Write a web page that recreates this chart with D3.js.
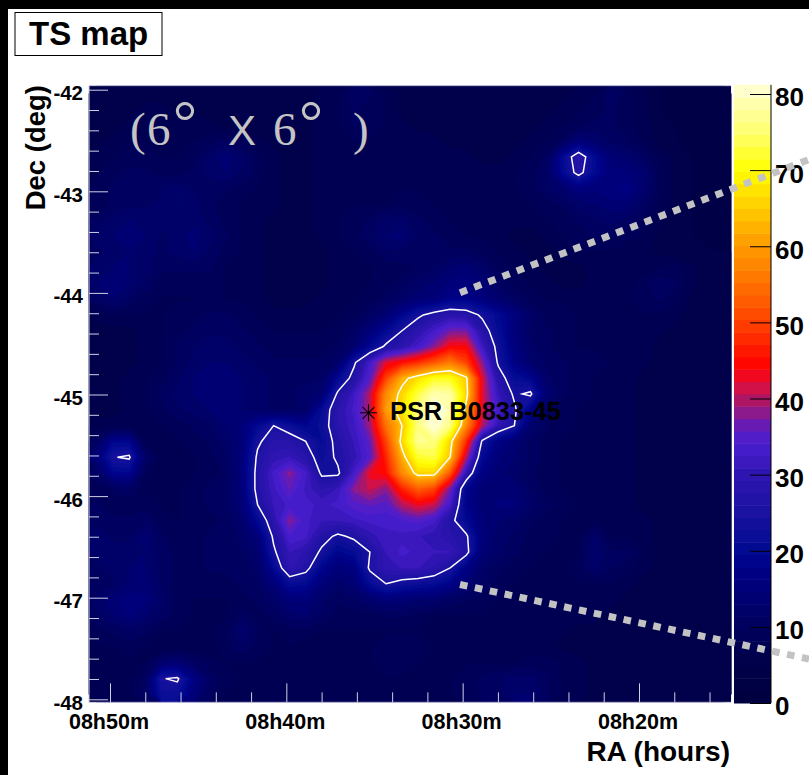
<!DOCTYPE html>
<html>
<head>
<meta charset="utf-8">
<script src="https://cdn.jsdelivr.net/npm/d3@7"></script>
<style>
  html, body { margin: 0; padding: 0; background: #fff; }
  text { font-family: "Liberation Sans", Arial, sans-serif; font-weight: bold; fill: #000; }
</style>
</head>
<body>
<script>
// TS values, one row per ~0.16 deg in Dec, top to bottom
const tsRows = [
  [5,5,6,6,6,6,6,6,5,5,5,5,5,6,7,8,11,10,8,6,6,6,6,5,5,5,5,5,6,6,7,8,11,9,7,5,4,4,4,4],
  [5,5,6,7,7,6,6,6,6,5,5,5,5,6,7,8,10,9,8,6,6,6,6,6,5,5,5,5,6,7,8,9,10,9,7,5,4,4,4,4],
  [5,6,7,7,7,7,7,7,6,6,5,5,5,6,7,8,10,9,8,7,6,6,6,6,6,5,5,6,7,8,9,10,10,9,7,6,5,4,4,4],
  [6,7,8,8,8,8,8,9,10,9,7,6,6,6,7,8,8,8,7,7,7,7,6,6,6,6,6,7,8,10,15,13,11,10,8,6,5,4,4,4],
  [7,8,9,9,8,8,9,12,14,12,9,7,6,6,7,7,7,7,7,7,8,8,7,7,6,6,7,8,10,20,29,20,14,13,11,8,6,5,4,4],
  [8,9,10,10,9,9,10,12,13,11,9,7,6,6,7,7,7,7,8,8,8,8,8,7,7,7,8,9,11,20,27,20,15,15,13,9,6,5,4,4],
  [9,10,11,11,11,13,11,10,10,9,8,7,6,6,7,7,7,8,8,8,8,8,8,8,8,7,8,9,11,13,16,15,16,17,13,9,6,5,4,4],
  [9,10,11,11,12,13,12,10,9,8,7,7,6,6,7,7,8,8,8,9,9,8,8,8,8,8,8,8,9,10,12,13,14,14,11,8,6,5,4,4],
  [10,12,13,12,12,12,12,11,9,8,7,6,6,6,7,8,9,10,12,12,10,9,8,8,8,7,7,7,8,9,10,11,12,11,9,7,6,5,4,4],
  [12,13,14,13,11,12,14,12,10,8,7,6,6,6,7,8,9,11,13,14,11,10,9,8,8,7,6,6,7,8,9,10,10,9,8,6,5,5,4,4],
  [11,12,13,12,11,12,13,11,9,8,7,6,6,6,6,7,8,9,11,11,10,10,10,10,9,8,7,6,6,7,8,8,8,7,7,6,5,5,5,5],
  [12,13,13,12,10,10,10,10,8,8,7,6,6,6,6,7,7,8,9,9,10,11,13,14,12,9,8,7,6,6,6,7,7,7,7,8,9,7,5,5],
  [13,15,13,11,9,9,9,9,8,8,7,6,6,6,6,7,7,8,9,10,12,13,15,16,14,11,9,8,7,6,6,7,7,7,9,11,10,7,5,5],
  [11,13,11,9,8,8,8,9,8,8,7,6,6,6,7,7,8,9,10,12,14,15,18,18,16,13,11,9,8,8,7,7,8,8,9,10,9,6,5,5],
  [7,8,8,8,8,9,9,10,10,9,8,7,7,7,8,8,9,11,14,19,24,27,29,28,24,20,16,12,9,9,8,8,8,8,8,8,7,6,5,5],
  [6,6,6,7,8,9,10,11,11,10,9,8,8,8,8,9,11,15,20,25,29,33,37,37,28,21,15,11,10,9,8,8,8,8,7,7,6,5,5,5],
  [6,6,6,7,8,10,11,12,12,11,10,9,9,9,9,10,13,20,26,29,33,38,44,44,32,23,16,12,10,9,8,8,8,8,7,6,6,5,5,5],
  [6,6,6,7,8,10,12,13,13,12,11,10,10,10,10,12,24,33,42,45,48,52,56,50,38,24,17,13,11,10,9,9,8,8,7,6,5,5,5,5],
  [6,6,7,8,9,11,13,14,14,13,12,11,11,11,11,20,27,35,50,62,67,71,71,65,42,28,21,19,12,10,9,8,8,7,6,6,5,5,5,5],
  [6,6,7,8,10,12,13,14,14,13,12,11,11,12,14,26,32,40,58,66,73,79,78,66,42,31,24,26,14,10,9,8,8,7,6,6,5,5,5,5],
  [6,6,7,8,9,11,12,13,14,13,12,11,11,12,21,29,33,40,60,67,76,82,79,62,42,33,26,18,10,9,8,8,7,7,6,5,5,5,5,5],
  [7,7,7,7,8,9,10,11,13,15,20,25,22,19,22,29,32,39,55,64,76,82,76,58,40,30,25,13,10,9,8,8,7,7,6,5,5,5,5,5],
  [11,19,19,8,8,8,9,10,12,14,24,28,28,25,21,27,31,36,50,66,77,76,66,48,24,17,14,11,9,8,8,8,7,7,6,5,5,5,5,5],
  [15,24.7,25.8,12,7,8,8,9,11,15,26,30,31,28,22,26,30,35,47,62,72,73,64,40,20,15,13,11,9,8,8,8,8,7,6,5,5,5,5,5],
  [11,19,19,9,7,8,8,9,10,15,27,33,38,33,24,24,33,43,45,58,66,66,52,30,17,14,12,10,9,8,8,8,8,7,6,5,5,5,5,5],
  [9,10,11,8,7,8,9,10,11,15,27,32,36,32,29,31,38,41,38,47,53,50,37,19,14,14,14,11,9,8,8,8,8,7,6,5,5,5,5,5],
  [10,9,9,9,8,8,9,10,11,14,25,31,33,33,32,33,35,36,35,40,43,41,33,18,14,15,15,12,10,9,8,8,8,7,6,6,5,5,5,5],
  [11,10,10,11,9,8,9,9,10,13,20,29,38,33,31,31,32,33,33,34,35,33,27,20,15,13,12,10,9,8,8,8,8,8,7,6,5,5,5,5],
  [12,11,11,14,10,9,9,10,10,12,15,26,34,33,27,24,26,30,32,32,31,30,28,26,15,12,11,9,9,8,8,12,8,8,7,6,5,5,5,5],
  [12,12,12,13,11,9,9,10,10,11,13,24,31,29,24,19,21,25,31,33,32,31,31,27,14,12,10,9,8,8,8,13,10,10,8,6,5,5,5,5],
  [11,12,13,13,11,9,9,10,10,10,12,20,30,27,19,15,16,26,30,31,31,29,25,17,12,10,9,8,8,8,9,12,10,9,7,6,5,5,5,5],
  [10,11,13,14,11,9,9,9,9,10,11,15,21,20,15,12,14,21,25,23,22,21,18,14,11,9,8,8,8,8,8,8,8,7,6,5,5,5,5,5],
  [12,14,16,15,12,9,8,8,8,9,10,12,15,15,12,10,11,13,15,14,13,13,11,10,9,8,7,7,7,7,7,7,7,6,6,5,5,5,5,5],
  [11,13,15,13,11,9,8,8,8,10,9,10,12,13,11,9,9,9,10,10,9,8,8,8,8,7,7,7,7,7,7,7,6,6,5,5,5,5,5,5],
  [9,10,11,10,8,8,8,8,9,13,10,8,9,9,8,8,8,8,8,8,8,8,8,8,7,7,7,7,7,7,6,6,6,6,5,5,5,5,5,5],
  [8,8,9,8,7,7,7,7,9,11,9,8,8,7,7,7,8,8,9,9,9,8,8,7,7,7,7,7,7,6,6,6,6,5,5,5,5,5,5,5],
  [8,8,8,8,13,14,11,9,8,8,8,7,7,7,7,7,7,8,9,9,8,8,8,8,8,8,8,9,9,8,7,6,6,6,5,5,5,5,5,5],
  [8,8,8,10,24.7,25.8,17,11,9,8,8,7,7,7,7,7,8,8,8,8,8,8,8,9,10,11,12,12,10,8,7,6,6,6,5,5,5,5,5,5],
  [7,8,8,11,22,22,15,10,8,8,7,7,7,7,7,7,8,8,8,8,8,8,8,9,10,11,13,13,10,8,7,6,6,5,5,5,5,5,5,5]
];

const raRange = [51.19, 14.78];
const decRange = [-41.96, -48.03];
const tsRange = [0, 81.2];

const raMajor = [50, 40, 30, 20];
const raMinor = [48, 46, 44, 42, 38, 36, 34, 32, 28, 26, 24, 22, 18, 16];
const decMajor = [-42, -43, -44, -45, -46, -47, -48];
const decMinor = [-42.2, -42.4, -42.6, -42.8, -43.2, -43.4, -43.6, -43.8, -44.2, -44.4, -44.6, -44.8,
  -45.2, -45.4, -45.6, -45.8, -46.2, -46.4, -46.6, -46.8, -47.2, -47.4, -47.6, -47.8];
const tsTicks = [0, 10, 20, 30, 40, 50, 60, 70, 80];
const contourLevels = [25, 64];
const pulsar = { name: "PSR B0833-45", ra: 35.34, dec: -45.18 };

const paletteValues = [0, 5, 10, 18, 20, 25, 30, 34, 36, 38, 40, 42, 44, 50, 55, 60, 65, 70, 75, 80, 81.2];
const paletteColors = ["#000040", "#000048", "#00005e", "#000088", "#000a90", "#1a12a0", "#2e14b0", "#4a1ed0",
  "#5a1cc0", "#8a1a90", "#b0155f", "#e01040", "#ff0000", "#ff4000", "#ff7000", "#ff9900", "#ffcc00", "#ffff00",
  "#ffff70", "#ffffc0", "#ffffe8"];

const nLevels = 50;

let svg = d3.select("body").append("svg").attr("width", 809).attr("height", 775).style("display", "block");

const x = d3.scaleLinear().domain([50, 20]).range([110, 639]);
const y = d3.scaleLinear().domain([-42, -48]).range([89.7, 699.3]);
const z = d3.scaleLinear().domain([0, 80]).range([703, 94]);
const color = d3.scaleLinear().domain(paletteValues).range(paletteColors);

const mapLeft = x(raRange[0]), mapRight = x(raRange[1]);
const mapTop = y(decRange[0]), mapBottom = y(decRange[1]);

// black strips on the slide edge
svg.append("rect").attr("width", 809).attr("height", 9).attr("fill", "#000");
svg.append("rect").attr("width", 8).attr("height", 775).attr("fill", "#000");

// title box
svg.append("rect").attr("x", 15).attr("y", 12.5).attr("width", 147).attr("height", 43)
  .attr("fill", "#fff").attr("stroke", "#000").attr("stroke-width", 1);
svg.append("text").text("TS map").attr("x", 29).attr("y", 45).style("font-size", "33px");

// map, filled bands from d3.contours
const nCols = tsRows[0].length, nRows = tsRows.length;
const colX = d3.scaleLinear().domain([0, nCols]).range([mapLeft, mapRight]);
const rowY = d3.scaleLinear().domain([0, nRows]).range([mapTop, mapBottom]);
const gridPath = d3.geoPath(d3.geoTransform({
  point(px, py) { this.stream.point(colX(px), rowY(py)); }
}));

const flat = tsRows.flat();
const step = (tsRange[1] - tsRange[0]) / nLevels;
const levels = d3.range(nLevels).map(i => tsRange[0] + i * step);

const contours = d3.contours().size([nCols, nRows]);

// the contour rings cut the grid corners, so lay the low colour under them
svg.append("rect")
  .attr("x", mapLeft).attr("y", mapTop)
  .attr("width", mapRight - mapLeft).attr("height", mapBottom - mapTop)
  .attr("fill", color(d3.min(flat)));

svg.append("g").selectAll("path")
  .data(contours.thresholds(levels)(flat))
  .join("path")
  .attr("d", gridPath)
  .attr("fill", d => color(d.value + step / 2))
  .attr("stroke", d => color(d.value + step / 2))
  .attr("stroke-width", 0.4);

// white TS contours
svg.append("g").selectAll("path")
  .data(contours.thresholds(contourLevels)(flat))
  .join("path")
  .attr("d", gridPath)
  .attr("fill", "none")
  .attr("stroke", "#fff")
  .attr("stroke-width", 1.5);

// colour bar
svg.append("g").selectAll("rect")
  .data(levels)
  .join("rect")
  .attr("x", 734)
  .attr("width", 37)
  .attr("y", d => z(d + step))
  .attr("height", d => z(d) - z(d + step) + 0.5)
  .attr("fill", d => color(d + step / 2));

let zAxis = svg.append("g").attr("transform", "translate(771,0)")
  .call(d3.axisRight(z).tickValues(tsTicks).tickSize(-21).tickSizeOuter(0).tickPadding(4).tickFormat(d => d));
zAxis.select(".domain").attr("d", `M0,${z(tsRange[1])}V${z(0)}`);
zAxis.selectAll("text").style("font-size", "26px").attr("dy", "0.46em");

// map frame and ticks
const frameColor = "#cfcfe6";

function addXAxis(values, size, labelled) {
  let axis = d3.axisBottom(x).tickValues(values).tickSize(-size).tickSizeOuter(0).tickPadding(11)
    .tickFormat(d => labelled ? `08h${d}m` : "");
  let g = svg.append("g").attr("transform", `translate(0,${mapBottom})`).call(axis);
  g.select(".domain").remove();
  g.selectAll("line").attr("stroke", frameColor);
  g.selectAll("text").style("font-size", "21.5px").attr("dx", "-1.5");
}

function addYAxis(values, size, labelled) {
  let axis = d3.axisLeft(y).tickValues(values).tickSize(-size).tickSizeOuter(0).tickPadding(6)
    .tickFormat(d => labelled ? d : "");
  let g = svg.append("g").attr("transform", `translate(${mapLeft},0)`).call(axis);
  g.select(".domain").remove();
  g.selectAll("line").attr("stroke", frameColor);
  g.selectAll("text").style("font-size", "20.5px").attr("dy", "0.49em");
}

addXAxis(raMajor, 19, true);
addXAxis(raMinor, 10, false);
addYAxis(decMajor, 19, true);
addYAxis(decMinor, 10, false);

svg.append("path")
  .attr("d", `M${mapRight},${mapTop}H${mapLeft}V${mapBottom}H${mapRight}`)
  .attr("fill", "none")
  .attr("stroke", frameColor);

svg.append("text").text("RA (hours)").attr("x", 730).attr("y", 761)
  .attr("text-anchor", "end").style("font-size", "28px");
svg.append("text").text("Dec (deg)")
  .attr("transform", "translate(45,85) rotate(-90)")
  .attr("text-anchor", "end").style("font-size", "27.5px");

// field of view note
const serif = "'Liberation Serif', serif";
let fov = svg.append("g");
[["(", 130], ["6", 147], ["6", 273], [")", 353]].forEach(d => {
  fov.append("text").text(d[0]).attr("x", d[1]).attr("y", 145)
    .style("font-family", serif).style("font-weight", "normal")
    .style("font-size", "47px").style("fill", "#c4c4c4");
});
[173, 299].forEach(d => {
  fov.append("text").text("\u00b0").attr("x", d).attr("y", 142)
    .style("font-family", serif).style("font-weight", "normal")
    .style("font-size", "60px").style("fill", "#c4c4c4");
});
fov.append("text").text("X").attr("x", 228).attr("y", 145)
  .style("font-weight", "normal").style("font-size", "42px").style("fill", "#c4c4c4");

// pulsar marker, eight armed star
const eightArm = {
  draw(context, size) {
    const r = Math.sqrt(size), d = r * Math.SQRT1_2;
    context.moveTo(-r, 0); context.lineTo(r, 0);
    context.moveTo(0, -r); context.lineTo(0, r);
    context.moveTo(-d, -d); context.lineTo(d, d);
    context.moveTo(-d, d); context.lineTo(d, -d);
  }
};
svg.append("path")
  .attr("d", d3.symbol(eightArm, 72)())
  .attr("transform", `translate(${x(pulsar.ra)},${y(pulsar.dec)})`)
  .attr("fill", "none").attr("stroke", "#000").attr("stroke-width", 1.1);
svg.append("text").text(pulsar.name).attr("x", 390).attr("y", 420).style("font-size", "25.4px");

// dotted zoom guides
[[460, 292.7, 809, 159.5], [460, 584.5, 809, 659]].forEach(d => {
  svg.append("line")
    .attr("x1", d[0]).attr("y1", d[1]).attr("x2", d[2]).attr("y2", d[3])
    .attr("stroke", "#c3c3c3").attr("stroke-width", 7).attr("stroke-dasharray", "7.6 7.6");
});
</script>
</body>
</html>
